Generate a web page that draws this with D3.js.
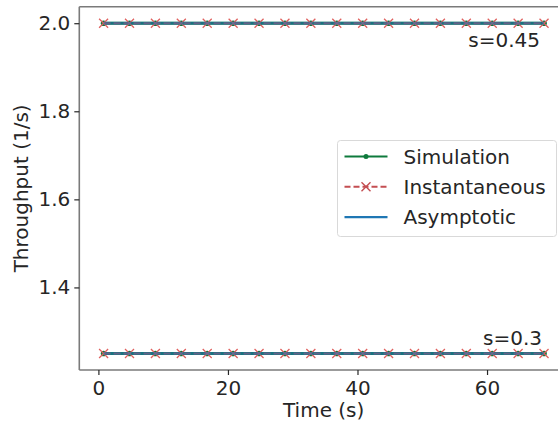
<!DOCTYPE html>
<html>
<head>
<meta charset="utf-8">
<script src="https://cdn.jsdelivr.net/npm/d3@7"></script>
<style>
  html, body { margin: 0; padding: 0; background: #fff; }
  svg { display: block; font-family: "DejaVu Sans", sans-serif; }
</style>
</head>
<body>
<svg id="chart" width="558" height="426"></svg>
<script>
// Sample times (s) shared by every series
const times = [0.8, 4.8, 8.8, 12.8, 16.8, 20.8, 24.8, 28.8, 32.8, 36.8, 40.8, 44.8, 48.8, 52.8, 56.8, 60.8, 64.8, 68.8];

// Throughput (1/s) for the two service settings
const simHigh  = [2.0, 2.0, 2.0, 2.0, 2.0, 2.0, 2.0, 2.0, 2.0, 2.0, 2.0, 2.0, 2.0, 2.0, 2.0, 2.0, 2.0, 2.0];
const instHigh = [2.0, 2.0, 2.0, 2.0, 2.0, 2.0, 2.0, 2.0, 2.0, 2.0, 2.0, 2.0, 2.0, 2.0, 2.0, 2.0, 2.0, 2.0];
const simLow   = [1.25, 1.25, 1.25, 1.25, 1.25, 1.25, 1.25, 1.25, 1.25, 1.25, 1.25, 1.25, 1.25, 1.25, 1.25, 1.25, 1.25, 1.25];
const instLow  = [1.25, 1.25, 1.25, 1.25, 1.25, 1.25, 1.25, 1.25, 1.25, 1.25, 1.25, 1.25, 1.25, 1.25, 1.25, 1.25, 1.25, 1.25];
const asymptotic = [2.0, 1.25];
const settingLabels = ["s=0.45", "s=0.3"];

const xTicks = [0, 20, 40, 60];
const yTicks = [1.4, 1.6, 1.8, 2.0];
const legendLabels = ["Simulation", "Instantaneous", "Asymptotic"];

const colors = { sim: "#0e7a3c", inst: "#c44e52", instMark: "#e0615f", asym: "#1f6fae" };

const svg = d3.select("#chart");
const plot = { left: 79.3, top: 6.7, right: 568, bottom: 370 };

const x = d3.scaleLinear().domain([-2.95, 72.5]).range([plot.left, plot.right]);
const y = d3.scaleLinear().domain([1.2125, 2.0375]).range([plot.bottom, plot.top]);

const textColor = "#262626";
const spineColor = "#7a7a7a";

// Clip the data area to the axes
svg.append("defs").append("clipPath").attr("id", "clip")
  .append("rect").attr("x", plot.left).attr("y", plot.top)
  .attr("width", plot.right - plot.left).attr("height", plot.bottom - plot.top);

// Axes
const xAxis = svg.append("g").attr("transform", `translate(0,${plot.bottom})`)
  .call(d3.axisBottom(x).tickValues(xTicks).tickFormat(d3.format("d")).tickSize(5).tickPadding(6));
const yAxis = svg.append("g").attr("transform", `translate(${plot.left},0)`)
  .call(d3.axisLeft(y).tickValues(yTicks).tickFormat(d3.format(".1f")).tickSize(5).tickPadding(4));

[xAxis, yAxis].forEach(g => {
  g.select(".domain").attr("stroke", spineColor).attr("stroke-width", 1.6);
  g.selectAll(".tick line").attr("stroke", textColor).attr("stroke-width", 1.2);
  g.selectAll(".tick text").attr("fill", textColor).style("font-size", "20px")
    .style("font-family", "DejaVu Sans, sans-serif");
});
// Plain spines without the outer tick ends
xAxis.select(".domain").attr("d", `M${plot.left},0H${plot.right}`);
yAxis.select(".domain").attr("d", `M0,${plot.bottom}V${plot.top}`);

// Top spine
svg.append("line").attr("x1", plot.left).attr("x2", plot.right)
  .attr("y1", plot.top).attr("y2", plot.top)
  .attr("stroke", spineColor).attr("stroke-width", 1.6);

// Axis titles
svg.append("text").attr("x", (plot.left + plot.right) / 2).attr("y", 417)
  .attr("text-anchor", "middle").attr("fill", textColor).style("font-size", "20px")
  .text("Time (s)");
svg.append("text")
  .attr("transform", `translate(28,${(plot.top + plot.bottom) / 2}) rotate(-90)`)
  .attr("text-anchor", "middle").attr("fill", textColor).style("font-size", "20px")
  .text("Throughput (1/s)");

const data = svg.append("g").attr("clip-path", "url(#clip)");
const line = d3.line().x(d => x(d.t)).y(d => y(d.v));
const pts = vals => times.map((t, i) => ({ t, v: vals[i] }));

const groups = [
  { sim: simHigh, inst: instHigh, asym: asymptotic[0] },
  { sim: simLow, inst: instLow, asym: asymptotic[1] }
];

groups.forEach(g => {
  // Simulation: green line with dot markers
  data.append("path").datum(pts(g.sim)).attr("d", line)
    .attr("fill", "none").attr("stroke", colors.sim).attr("stroke-width", 3);
  data.selectAll(null).data(pts(g.sim)).enter().append("circle")
    .attr("cx", d => x(d.t)).attr("cy", d => y(d.v)).attr("r", 2.8)
    .attr("fill", colors.sim);
  // Instantaneous: red dashed line with x markers
  data.append("path").datum(pts(g.inst)).attr("d", line)
    .attr("fill", "none").attr("stroke", colors.inst).attr("stroke-width", 2)
    .attr("stroke-dasharray", "7,3");
  const s = 4.5;
  data.selectAll(null).data(pts(g.inst)).enter().append("path")
    .attr("d", d => {
      const cx = x(d.t), cy = y(d.v);
      return `M${cx - s},${cy - s}L${cx + s},${cy + s}M${cx - s},${cy + s}L${cx + s},${cy - s}`;
    })
    .attr("stroke", colors.instMark).attr("stroke-width", 1.3).attr("fill", "none");
  // Asymptotic: blue horizontal line across the sampled interval
  data.append("line")
    .attr("x1", x(times[0])).attr("x2", x(times[times.length - 1]))
    .attr("y1", y(g.asym)).attr("y2", y(g.asym))
    .attr("stroke", colors.asym).attr("stroke-width", 3).attr("stroke-opacity", 0.6);
});

// Setting annotations, right-aligned near the end of each series
svg.append("text").attr("x", x(times[times.length - 1]) - 4).attr("y", y(asymptotic[0]) + 24)
  .attr("text-anchor", "end").attr("fill", textColor).style("font-size", "20px")
  .text(settingLabels[0]);
svg.append("text").attr("x", x(times[times.length - 1]) - 2).attr("y", y(asymptotic[1]) - 8)
  .attr("text-anchor", "end").attr("fill", textColor).style("font-size", "20px")
  .text(settingLabels[1]);

// Legend
const legend = svg.append("g").attr("transform", "translate(337.5,140.5)");
legend.append("rect").attr("width", 219).attr("height", 96).attr("rx", 3)
  .attr("fill", "#fff").attr("fill-opacity", 0.8).attr("stroke", "#d9d9d9");
legendLabels.forEach((lab, i) => {
  const cy = 16 + i * 30.3;
  const g = legend.append("g").attr("transform", `translate(0,${cy})`);
  if (i === 0) {
    g.append("line").attr("x1", 7).attr("x2", 50).attr("stroke", colors.sim).attr("stroke-width", 2.2);
    g.append("circle").attr("cx", 28.5).attr("r", 2.5).attr("fill", colors.sim);
  } else if (i === 1) {
    g.append("line").attr("x1", 7).attr("x2", 50).attr("stroke", colors.inst).attr("stroke-width", 2)
      .attr("stroke-dasharray", "6,3");
    g.append("path").attr("d", "M24,-4.5L33,4.5M24,4.5L33,-4.5")
      .attr("stroke", colors.inst).attr("stroke-width", 1.4);
  } else {
    g.append("line").attr("x1", 7).attr("x2", 50).attr("stroke", "#1f77b4").attr("stroke-width", 2.2);
  }
  g.append("text").attr("x", 66).attr("y", 0).attr("dy", "0.35em")
    .attr("fill", textColor).style("font-size", "20px").text(lab);
});
</script>
</body>
</html>
